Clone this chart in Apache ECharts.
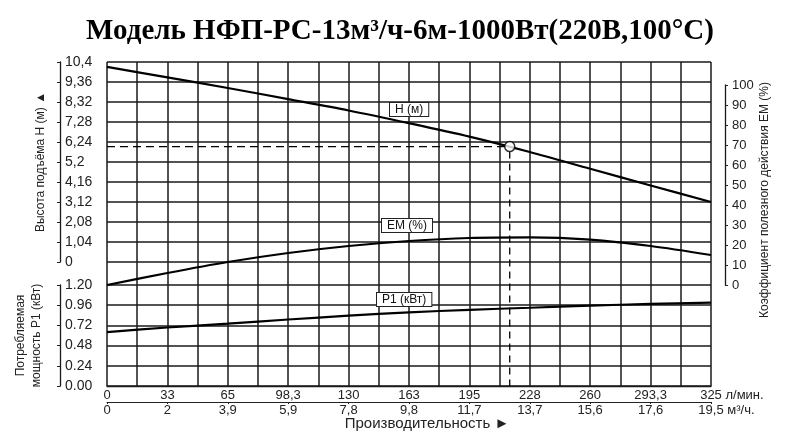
<!DOCTYPE html>
<html><head><meta charset="utf-8">
<script src="https://cdn.jsdelivr.net/npm/echarts@6/dist/echarts.min.js"></script>
<style>html,body{margin:0;padding:0;background:#fff}#c{width:800px;height:442px}</style>
</head><body><div id="c"></div>
<script>
const titleText = 'Модель НФП-РС-13м³/ч-6м-1000Вт(220В,100°С)';
const flowLpm = [0, 32.5, 65, 97.5, 130, 162.5, 195, 227.5, 260, 292.5, 325];
const headM = [10.15, 9.60, 9.05, 8.47, 7.88, 7.22, 6.52, 5.72, 4.85, 3.98, 3.12];
const effPct = [0, 6, 11.5, 16, 19.5, 22, 23.5, 23.8, 22.7, 19.5, 15];
const powerKw = [0.64, 0.695, 0.74, 0.79, 0.835, 0.875, 0.905, 0.93, 0.955, 0.975, 0.99];
const flowLabels = ['0', '33', '65', '98,3', '130', '163', '195', '228', '260', '293,3', '325'];
const flowM3hLabels = ['0', '2', '3,9', '5,9', '7,8', '9,8', '11,7', '13,7', '15,6', '17,6', '19,5'];
const headLabels = ['0', '1,04', '2,08', '3,12', '4,16', '5,2', '6,24', '7,28', '8,32', '9,36', '10,4'];
const powerLabels = ['0.00', '0.24', '0.48', '0.72', '0.96', '1.20'];
const effLabels = ['0', '10', '20', '30', '40', '50', '60', '70', '80', '90', '100'];
const opFlow = 216.7, opHead = 6;
const curveNames = ['H (м)', 'EM (%)', 'P1 (кВт)'];

const zip = (a, b) => a.map((v, i) => [v, b[i]]);
const font = 'Liberation Sans, Arial, sans-serif';
const gridLine = { show: true, lineStyle: { color: '#1a1a1a', width: 1.5 } };
const axisBlack = { show: true, onZero: false, lineStyle: { color: '#1a1a1a', width: 1.3 } };
const lbl = { color: '#222', fontSize: 13, fontFamily: font };
const hiddenX = (g) => ({ type: 'value', gridIndex: g, min: 0, max: 325, show: false });

const chart = echarts.init(document.getElementById('c'), null, { renderer: 'canvas' });
const boxStyle = (t) => ({ text: t, font: '12px ' + font, fill: '#111', backgroundColor: '#fff', borderColor: '#222', borderWidth: 1, padding: [1, 5, 0, 5] });
const baseGraphic = [
  { id: 'lh', type: 'text', left: 389, top: 102, z: 20, style: boxStyle(curveNames[0]) },
  { id: 'le', type: 'text', left: 381, top: 218, z: 20, style: boxStyle(curveNames[1]) },
  { id: 'lp', type: 'text', left: 376, top: 292, z: 20, style: boxStyle(curveNames[2]) }
];
const option = {
  backgroundColor: '#fff',
  animation: false,
  title: { text: titleText, left: 'center', top: 12,
    textStyle: { fontFamily: 'Liberation Serif, Times New Roman, serif', fontWeight: 'bold', fontSize: 29, color: '#000' } },
  grid: [
    { left: 107, right: 89, top: 62, bottom: 56 },
    { left: 107, right: 89, top: 62, height: 200 },
    { left: 107, right: 89, top: 85, height: 200 },
    { left: 107, right: 89, top: 285, height: 101 }
  ],
  xAxis: [
    { type: 'value', gridIndex: 0, min: 0, max: 325, interval: 16.25, position: 'bottom',
      axisLine: axisBlack, axisTick: { show: false }, splitLine: gridLine,
      axisLabel: Object.assign({}, lbl, { margin: 3, showMinLabel: true, showMaxLabel: true,
        rich: { g: { color: 'rgba(0,0,0,0)', fontSize: 13, fontFamily: font } },
        formatter: (v) => { const i = Math.round(v / 16.25); if (i % 2) return '';
          const t = flowLabels[i / 2]; return i === 20 ? '{g|л/мин. }' + t + ' л/мин.' : t; } }) },
    { type: 'value', gridIndex: 0, min: 0, max: 325, interval: 32.5, position: 'bottom', offset: 16,
      axisLine: { show: true, onZero: false, lineStyle: { color: '#222', width: 1 } },
      axisTick: { show: true, length: 2, lineStyle: { color: '#222' } }, splitLine: { show: false },
      axisLabel: Object.assign({}, lbl, { margin: 2, showMinLabel: true, showMaxLabel: true,
        rich: { g: { color: 'rgba(0,0,0,0)', fontSize: 13, fontFamily: font } },
        formatter: (v) => { const i = Math.round(v / 32.5); const t = flowM3hLabels[i];
          return i === 10 ? '{g|м³/ч. }' + t + ' м³/ч.' : t; } }),
      name: 'Производительность ►', nameLocation: 'middle', nameGap: 14, nameMoveOverlap: false,
      nameTextStyle: { color: '#222', fontSize: 15, fontFamily: font, padding: [0, 0, 0, 36] } },
    hiddenX(1), hiddenX(2), hiddenX(3)
  ],
  yAxis: [
    { type: 'value', gridIndex: 0, min: 0, max: 1, show: false },
    { type: 'value', gridIndex: 1, min: 0, max: 10.4, interval: 1.04, position: 'left', offset: 47,
      axisLine: axisBlack, axisTick: { show: true, length: 3, lineStyle: { color: '#222' } }, splitLine: gridLine,
      axisLabel: Object.assign({}, lbl, { fontSize: 14, inside: true, margin: 5, showMaxLabel: true,
        formatter: (v) => headLabels[Math.round(v / 1.04)] }),
      name: 'Высота подъёма H (м) ▲', nameLocation: 'middle', nameRotate: 90, nameGap: 13, nameMoveOverlap: false,
      nameTextStyle: { color: '#222', fontSize: 12, fontFamily: font } },
    { type: 'value', gridIndex: 2, min: 0, max: 100, interval: 10, position: 'right', offset: 14,
      axisLine: axisBlack, axisTick: { show: true, length: 3, lineStyle: { color: '#222' } }, splitLine: { show: false },
      axisLabel: Object.assign({}, lbl, { margin: 7, formatter: (v) => effLabels[Math.round(v / 10)] }),
      name: 'Коэффициент полезного действия EM (%)', nameLocation: 'middle', nameRotate: 90, nameGap: 34, nameMoveOverlap: false,
      nameTextStyle: { color: '#222', fontSize: 12, fontFamily: font, padding: [0, 30, 0, 0] } },
    { type: 'value', gridIndex: 3, min: 0, max: 1.2, interval: 0.24, position: 'left', offset: 47,
      axisLine: axisBlack, axisTick: { show: true, length: 3, lineStyle: { color: '#222' } }, splitLine: gridLine,
      axisLabel: Object.assign({}, lbl, { fontSize: 14, inside: true, margin: 5, showMaxLabel: true,
        formatter: (v) => powerLabels[Math.round(v / 0.24)] }),
      name: 'Потребляемая\nмощность P1 (кВт)', nameLocation: 'middle', nameRotate: 90, nameGap: 15, nameMoveOverlap: false,
      nameTextStyle: { color: '#222', fontSize: 12, fontFamily: font, lineHeight: 16 } }
  ],
  series: [
    { type: 'line', name: 'H', xAxisIndex: 2, yAxisIndex: 1, data: zip(flowLpm, headM), smooth: 0.3,
      showSymbol: false, lineStyle: { color: '#000', width: 2.2 }, z: 5 },
    { type: 'line', name: 'EM', xAxisIndex: 3, yAxisIndex: 2, data: zip(flowLpm, effPct), smooth: 0.3,
      showSymbol: false, lineStyle: { color: '#000', width: 2.2 }, z: 5 },
    { type: 'line', name: 'P1', xAxisIndex: 4, yAxisIndex: 3, data: zip(flowLpm, powerKw), smooth: 0.3,
      showSymbol: false, lineStyle: { color: '#000', width: 2.2 }, z: 5 },
    { type: 'line', name: 'opH', xAxisIndex: 2, yAxisIndex: 1, data: [[0, opHead], [opFlow, opHead]],
      showSymbol: false, lineStyle: { color: '#000', width: 1.3, type: [8, 5] }, z: 4 },
    { type: 'scatter', name: 'op', xAxisIndex: 2, yAxisIndex: 1, data: [[opFlow, opHead]], symbol: 'circle', symbolSize: 10,
      itemStyle: { color: '#fff', borderColor: '#000', borderWidth: 1.5 }, z: 10 }
  ],
  graphic: baseGraphic
};
chart.setOption(option);
const pTop = chart.convertToPixel({ xAxisIndex: 2, yAxisIndex: 1 }, [opFlow, opHead]);
const pBot = chart.convertToPixel({ xAxisIndex: 4, yAxisIndex: 3 }, [opFlow, 0]);
chart.setOption({ graphic: baseGraphic.concat([
  { id: 'vline', type: 'line', z: 1, shape: { x1: pTop[0], y1: pTop[1] + 5, x2: pBot[0], y2: pBot[1] },
    style: { stroke: '#000', lineWidth: 1.3, lineDash: [7, 5] } }
]) });
</script>
</body></html>
